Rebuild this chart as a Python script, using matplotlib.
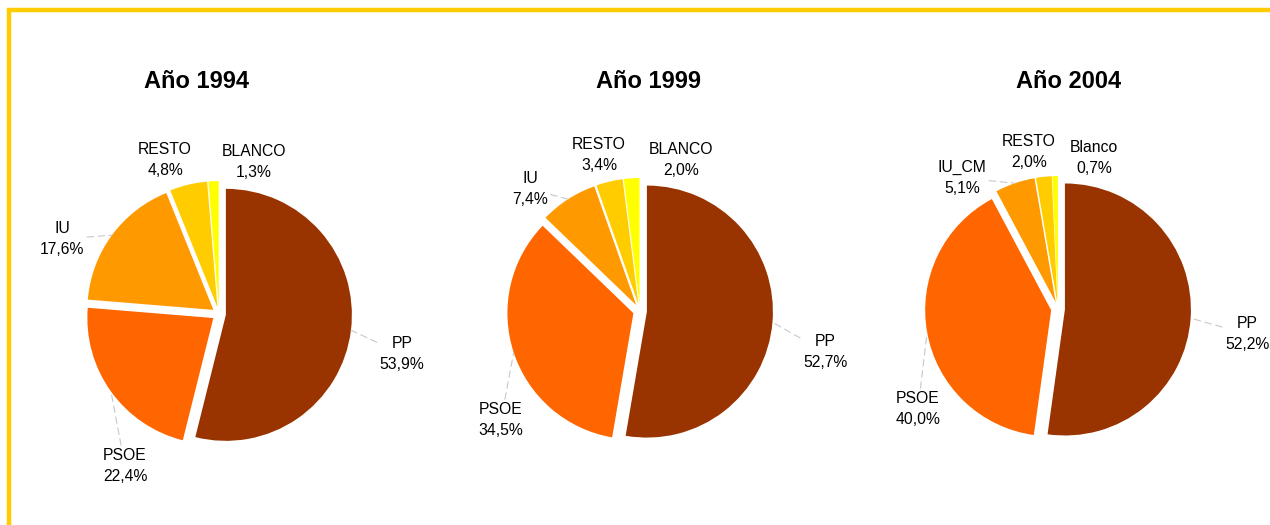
import numpy as np
import matplotlib
matplotlib.use('Agg')
import matplotlib.pyplot as plt
from matplotlib.patches import Rectangle

plt.rcParams['font.family'] = ['Liberation Sans', 'DejaVu Sans']

# ---------- datos ----------
titulos = ['Año 1994', 'Año 1999', 'Año 2004']
partidos_1994 = ['PP', 'PSOE', 'IU', 'RESTO', 'BLANCO']
partidos_1999 = ['PP', 'PSOE', 'IU', 'RESTO', 'BLANCO']
partidos_2004 = ['PP', 'PSOE', 'IU_CM', 'RESTO', 'Blanco']
votos_1994 = [53.9, 22.4, 17.6, 4.8, 1.3]
votos_1999 = [52.7, 34.5, 7.4, 3.4, 2.0]
votos_2004 = [52.2, 40.0, 5.1, 2.0, 0.7]
colores = ['#993300', '#FF6600', '#FF9900', '#FFCC00', '#FFFF00']

# ---------- disposicion (pixeles, y desde arriba) ----------
W, H = 1270, 525
RADIO = 126
EXPLOTA = 0.055
centros = [(219, 314), (640, 311), (1058, 309)]
pos_titulos = [(197, 88), (648, 88), (1069, 88)]
pos_etiquetas = [
    [(402, 354), (125, 466), (62, 239), (165, 160), (254, 162)],
    [(825, 352), (501, 420), (530, 189), (599, 155), (681, 160)],
    [(1247, 334), (918, 409), (962, 178), (1029, 152), (1094, 158)],
]


def Y(y):
    return H - y


fig = plt.figure(figsize=(12.7, 5.25), dpi=100)
ax = fig.add_axes([0, 0, 1, 1])

datos = [(partidos_1994, votos_1994), (partidos_1999, votos_1999), (partidos_2004, votos_2004)]

for i, (nombres, votos) in enumerate(datos):
    cx, cy = centros[i]
    wedges, _ = ax.pie(votos, colors=colores, startangle=90, counterclock=False,
                       radius=RADIO, center=(cx, Y(cy)),
                       explode=[EXPLOTA * RADIO] * len(votos),
                       wedgeprops=dict(linewidth=0))
    for j, (w, nombre, v) in enumerate(zip(wedges, nombres, votos)):
        ang = np.deg2rad((w.theta1 + w.theta2) / 2)
        borde = (w.center[0] + RADIO * np.cos(ang), w.center[1] + RADIO * np.sin(ang))
        lx, ly = pos_etiquetas[i][j]
        texto = nombre + '\n' + f'{v:.1f}'.replace('.', ',') + '%'
        flecha = None
        if j < 3:
            # lineas guia solo para las etiquetas alejadas
            flecha = dict(arrowstyle='-', color='#C8C8C8', lw=0.8,
                          linestyle=(0, (6, 4)), shrinkA=0, shrinkB=0)
        ax.annotate(texto, xy=borde, xytext=(lx, Y(ly)), ha='center', va='center',
                    fontsize=11.3, linespacing=1.5, arrowprops=flecha)
    tx, ty = pos_titulos[i]
    ax.text(tx, Y(ty), titulos[i], ha='center', va='baseline',
            fontsize=17, fontweight='bold')

# marco amarillo (solo se ve arriba y a la izquierda)
ax.add_patch(Rectangle((9, -50), W + 100, Y(10) + 50, fill=False,
                       edgecolor='#FFCC00', linewidth=3.2, clip_on=False))

ax.set_xlim(0, W)
ax.set_ylim(0, H)
ax.set_aspect('equal')
ax.axis('off')

fig.savefig('out.png', dpi=100)
